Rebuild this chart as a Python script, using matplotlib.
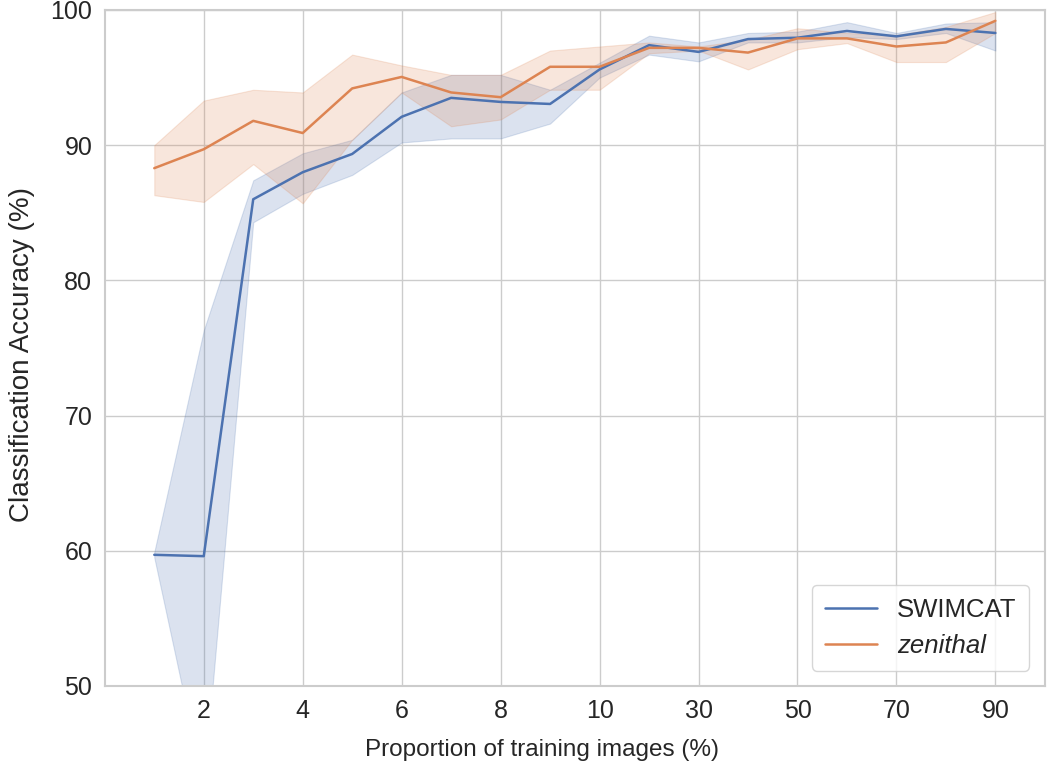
import numpy as np
import matplotlib
matplotlib.use("Agg")
import matplotlib.pyplot as plt
import seaborn as sns

# proportion of training images (%)
proportions = [1, 2, 3, 4, 5, 6, 7, 8, 9, 10, 20, 30, 40, 50, 60, 70, 80, 90]
tick_labels = ["2", "4", "6", "8", "10", "30", "50", "70", "90"]

# SWIMCAT accuracy with band
swimcat_mean = [59.7, 59.6, 86.0, 88.0, 89.35, 92.1, 93.5, 93.2, 93.05, 95.6,
                97.4, 96.9, 97.85, 97.95, 98.45, 98.05, 98.6, 98.3]
swimcat_low = [59.5, 42.5, 84.3, 86.4, 87.8, 90.2, 90.5, 90.5, 91.6, 95.0,
               96.7, 96.2, 97.6, 97.6, 98.0, 97.85, 98.3, 97.0]
swimcat_high = [59.9, 76.3, 87.4, 89.4, 90.4, 93.9, 95.2, 95.2, 94.1, 96.1,
                98.1, 97.6, 98.3, 98.4, 99.1, 98.3, 99.0, 99.1]

# zenithal accuracy with band
zenithal_mean = [88.3, 89.7, 91.8, 90.9, 94.2, 95.05, 93.9, 93.55, 95.8, 95.8,
                 97.2, 97.2, 96.85, 97.9, 97.9, 97.3, 97.6, 99.2]
zenithal_low = [86.3, 85.8, 88.6, 85.7, 90.4, 93.9, 91.4, 91.9, 94.1, 94.1,
                96.8, 97.0, 95.6, 97.1, 97.55, 96.15, 96.15, 98.3]
zenithal_high = [90.0, 93.3, 94.1, 93.9, 96.7, 95.9, 95.2, 95.2, 97.0, 97.3,
                 97.6, 97.3, 97.8, 98.65, 98.3, 98.15, 98.75, 99.85]

sns.set_theme(style="whitegrid")
plt.rcParams['font.family'] = ['Liberation Sans', 'DejaVu Sans']

pal = sns.color_palette("deep")
blue = pal[0]
orange = pal[1]

fig = plt.figure(figsize=(10.48, 7.69), dpi=100)
ax = fig.add_axes([0.100, 0.108, 0.897, 0.879])

x = np.arange(len(proportions))

ax.fill_between(x, swimcat_low, swimcat_high, color=blue, alpha=0.2, linewidth=0.8)
ax.fill_between(x, zenithal_low, zenithal_high, color=orange, alpha=0.2, linewidth=0.8)
ax.plot(x, swimcat_mean, color=blue, lw=1.8, label="SWIMCAT")
ax.plot(x, zenithal_mean, color=orange, lw=1.8, label="zenithal")

ax.set_xlim(-1, 18)
ax.set_ylim(50, 100)
ax.set_xticks(x[1::2])
ax.set_xticklabels(tick_labels)
ax.set_yticks([50, 60, 70, 80, 90, 100])
ax.tick_params(labelsize=18, colors='#262626')
ax.tick_params(axis='y', pad=3)

ax.set_xlabel("Proportion of training images (%)", fontsize=17.5, color='#262626')
ax.set_ylabel("Classification Accuracy (%)", fontsize=20, color='#262626')
# label spots
ax.xaxis.set_label_coords(0.465, -0.078)
ax.yaxis.set_label_coords(-0.074, 0.49)

for s in ax.spines.values():
    s.set_color('#cccccc')
    s.set_linewidth(1.5)

leg = ax.legend(loc="lower right", fontsize=18.5, handlelength=2.0,
                borderpad=0.5, labelspacing=0.45, borderaxespad=0.6)
# zenithal is set in italics
leg.get_texts()[1].set_fontstyle('italic')

fig.savefig("out.png", dpi=100)
